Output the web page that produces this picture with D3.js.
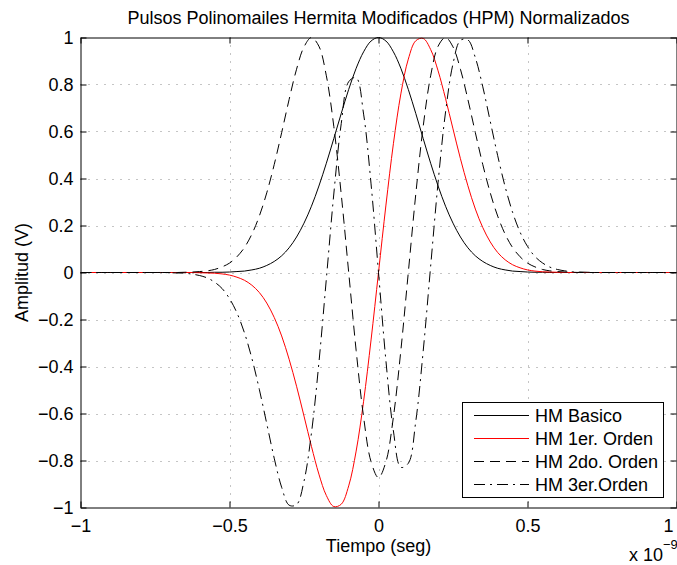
<!DOCTYPE html>
<html>
<head>
<meta charset="utf-8">
<script src="https://cdn.jsdelivr.net/npm/d3@7"></script>
<style>
  html, body { margin: 0; padding: 0; background: #fff; }
  svg text { font-family: "Liberation Sans", Arial, Helvetica, sans-serif; fill: #000; }
</style>
</head>
<body>
<svg id="chart" width="677" height="565"></svg>
<script>
// ---- data (time in units of 1e-9 s) ----
const timeNs = [-1, -0.9, -0.8, -0.75, -0.725, -0.7, -0.675, -0.65, -0.625, -0.6, -0.575, -0.55, -0.525, -0.5, -0.475, -0.45, -0.425, -0.4, -0.375, -0.35, -0.325, -0.3, -0.275, -0.25, -0.225, -0.2, -0.175, -0.15, -0.125, -0.1, -0.075, -0.05, -0.025,
  0,
  0.025, 0.05, 0.075, 0.1, 0.125, 0.15, 0.175, 0.2, 0.225, 0.25, 0.275, 0.3, 0.325, 0.35, 0.375, 0.4, 0.425, 0.45, 0.475, 0.5, 0.525, 0.55, 0.575, 0.6, 0.625, 0.65, 0.675, 0.7, 0.725, 0.75, 0.8, 0.9, 1];

const hmBasico = [0, 0, 0,
  0, 0, 0, 0, 0, 0, 0, 0, 0.001, 0.001, 0.002, 0.004, 0.006, 0.011, 0.018, 0.030, 0.047, 0.071, 0.105, 0.151, 0.210, 0.282, 0.368, 0.465, 0.570, 0.677, 0.779, 0.869, 0.939, 0.985,
  1,
  0.985, 0.939, 0.869, 0.779, 0.677, 0.570, 0.465, 0.368, 0.282, 0.210, 0.151, 0.105, 0.071, 0.047, 0.030, 0.018, 0.011, 0.006, 0.004, 0.002, 0.001, 0.001, 0, 0, 0, 0, 0, 0, 0, 0,
  0, 0, 0];

const hm1Orden = [0, 0, 0,
  0, 0, 0, 0, 0, 0, -0.001, -0.002, -0.003, -0.006, -0.011, -0.020, -0.033, -0.054, -0.085, -0.130, -0.191, -0.270, -0.369, -0.484, -0.611, -0.740, -0.858, -0.949, -0.996, -0.986, -0.908, -0.760, -0.548, -0.287,
  0,
  0.287, 0.548, 0.760, 0.908, 0.986, 0.996, 0.949, 0.858, 0.740, 0.611, 0.484, 0.369, 0.270, 0.191, 0.130, 0.085, 0.054, 0.033, 0.020, 0.011, 0.006, 0.003, 0.002, 0.001, 0, 0, 0, 0, 0, 0,
  0, 0, 0];

const hm2Orden = [0, 0, 0,
  0, 0, 0, 0, 0.001, 0.002, 0.004, 0.007, 0.013, 0.024, 0.040, 0.067, 0.106, 0.163, 0.240, 0.339, 0.459, 0.595, 0.736, 0.865, 0.960, 1.000, 0.963, 0.837, 0.622, 0.332, 0, -0.332, -0.615, -0.805,
  -0.873,
  -0.805, -0.615, -0.332, 0, 0.332, 0.622, 0.837, 0.963, 1.000, 0.960, 0.865, 0.736, 0.595, 0.459, 0.339, 0.240, 0.163, 0.106, 0.067, 0.040, 0.024, 0.013, 0.007, 0.004, 0.002, 0.001, 0, 0, 0, 0,
  0, 0, 0];

const hm3Orden = [0, 0, 0,
  0, 0, -0.001, -0.002, -0.003, -0.007, -0.013, -0.023, -0.041, -0.068, -0.111, -0.172, -0.256, -0.365, -0.497, -0.643, -0.790, -0.914, -0.990, -0.988, -0.888, -0.683, -0.384, -0.027, 0.334, 0.634, 0.812, 0.829, 0.674, 0.377,
  0,
  -0.377, -0.674, -0.829, -0.812, -0.634, -0.334, 0.027, 0.384, 0.683, 0.888, 0.988, 0.990, 0.914, 0.790, 0.643, 0.497, 0.365, 0.256, 0.172, 0.111, 0.068, 0.041, 0.023, 0.013, 0.007, 0.003, 0.002, 0.001, 0, 0,
  0, 0, 0];

const seriesNames = ["HM Basico", "HM 1er. Orden", "HM 2do. Orden", "HM 3er.Orden"];
const xTickValues = [-1, -0.5, 0, 0.5, 1];
const xTickLabels = ["\u22121", "\u22120.5", "0", "0.5", "1"];
const yTickValues = [-1, -0.8, -0.6, -0.4, -0.2, 0, 0.2, 0.4, 0.6, 0.8, 1];
const yTickLabels = ["\u22121", "\u22120.8", "\u22120.6", "\u22120.4", "\u22120.2", "0", "0.2", "0.4", "0.6", "0.8", "1"];
const titleText = "Pulsos Polinomailes Hermita Modificados (HPM) Normalizados";
const xLabelText = "Tiempo (seg)";
const yLabelText = "Amplitud (V)";

// ---- styles ----
const seriesStyles = [
  { color: "#000000", dash: null },
  { color: "#ff0000", dash: null },
  { color: "#000000", dash: "10,6" },
  { color: "#000000", dash: "11,5,2,5" }
];

// ---- layout ----
const L = 80.5, R = 676.5, T = 37.5, B = 507.5;
const svg = d3.select("#chart");
const x = d3.scaleLinear().domain([-1, 1]).range([L, R]);
const y = d3.scaleLinear().domain([-1, 1]).range([B, T]);
const FS = 18;

// grid
const grid = svg.append("g");
grid.selectAll("line.gx").data(xTickValues.slice(1, -1)).enter().append("line")
  .attr("x1", d => Math.round(x(d)) + 0.5).attr("x2", d => Math.round(x(d)) + 0.5)
  .attr("y1", T).attr("y2", B)
  .attr("stroke", "#8a8a8a").attr("stroke-width", 1).attr("stroke-dasharray", "1,7");
grid.selectAll("line.gy").data(yTickValues.slice(1, -1)).enter().append("line")
  .attr("y1", d => Math.round(y(d)) + 0.5).attr("y2", d => Math.round(y(d)) + 0.5)
  .attr("x1", L).attr("x2", R)
  .attr("stroke", "#8a8a8a").attr("stroke-width", 1).attr("stroke-dasharray", "1,7");

// curves
const allSeries = [hmBasico, hm1Orden, hm2Orden, hm3Orden];
const line = d3.line()
  .x((d, i) => x(timeNs[i]))
  .y(d => y(d))
  .curve(d3.curveCatmullRom.alpha(0.5));
svg.append("defs").append("clipPath").attr("id", "clip")
  .append("rect").attr("x", L).attr("y", T - 1).attr("width", R - L).attr("height", B - T + 2);
const curves = svg.append("g").attr("clip-path", "url(#clip)");
allSeries.forEach((s, k) => {
  curves.append("path").datum(s)
    .attr("d", line)
    .attr("fill", "none")
    .attr("stroke", seriesStyles[k].color)
    .attr("stroke-width", 1)
    .attr("stroke-dasharray", seriesStyles[k].dash);
});

// axes
const fmtX = d => xTickLabels[xTickValues.indexOf(d)];
const fmtY = d => yTickLabels[yTickValues.indexOf(d)];
const ax = svg.append("g").attr("transform", `translate(0,${B})`)
  .call(d3.axisBottom(x).tickValues(xTickValues).tickFormat(fmtX).tickSizeInner(-6).tickSizeOuter(0).tickPadding(12));
// keep the last x label inside the window
ax.selectAll(".tick text").filter(d => d === 1).attr("text-anchor", "end").attr("dx", "-0.2em");
const axTop = svg.append("g").attr("transform", `translate(0,${T})`)
  .call(d3.axisTop(x).tickValues(xTickValues).tickFormat("").tickSizeInner(-6).tickSizeOuter(0));
const ay = svg.append("g").attr("transform", `translate(${L},0)`)
  .call(d3.axisLeft(y).tickValues(yTickValues).tickFormat(fmtY).tickSizeInner(-6).tickSizeOuter(0).tickPadding(7));
const ayR = svg.append("g").attr("transform", `translate(${R},0)`)
  .call(d3.axisRight(y).tickValues(yTickValues).tickFormat("").tickSizeInner(-6).tickSizeOuter(0));
[ax, axTop, ay, ayR].forEach(g => {
  g.selectAll("path.domain").attr("stroke", "#000").attr("stroke-width", 1);
  g.selectAll(".tick line").attr("stroke", "#000");
  g.selectAll("text").style("font-size", FS + "px").attr("fill", "#000")
    .style("font-family", '"Liberation Sans", Arial, Helvetica, sans-serif');
});

// title & labels
svg.append("text").attr("x", (L + R) / 2).attr("y", 24).attr("text-anchor", "middle")
  .style("font-size", FS + "px").text(titleText);
svg.append("text").attr("x", (L + R) / 2).attr("y", 552).attr("text-anchor", "middle")
  .style("font-size", FS + "px").text(xLabelText);
svg.append("text").attr("transform", `translate(28,${(T + B) / 2}) rotate(-90)`).attr("text-anchor", "middle")
  .style("font-size", FS + "px").text(yLabelText);
const expo = svg.append("text").attr("x", 629).attr("y", 561).style("font-size", FS + "px");
expo.append("tspan").text("x 10");
expo.append("tspan").attr("dy", -12).style("font-size", "13px").text("\u22129");

// legend
const lg = svg.append("g");
lg.append("rect").attr("x", 462.5).attr("y", 402.5).attr("width", 201).attr("height", 95)
  .attr("fill", "#fff").attr("stroke", "#000").attr("stroke-width", 1);
seriesNames.forEach((name, k) => {
  const yy = 415.5 + k * 23;
  lg.append("line").attr("x1", 474).attr("x2", 529).attr("y1", yy).attr("y2", yy)
    .attr("stroke", seriesStyles[k].color).attr("stroke-width", 1)
    .attr("stroke-dasharray", seriesStyles[k].dash);
  lg.append("text").attr("x", 535).attr("y", yy).attr("dy", "0.35em")
    .style("font-size", FS + "px").text(name);
});
</script>
</body>
</html>
